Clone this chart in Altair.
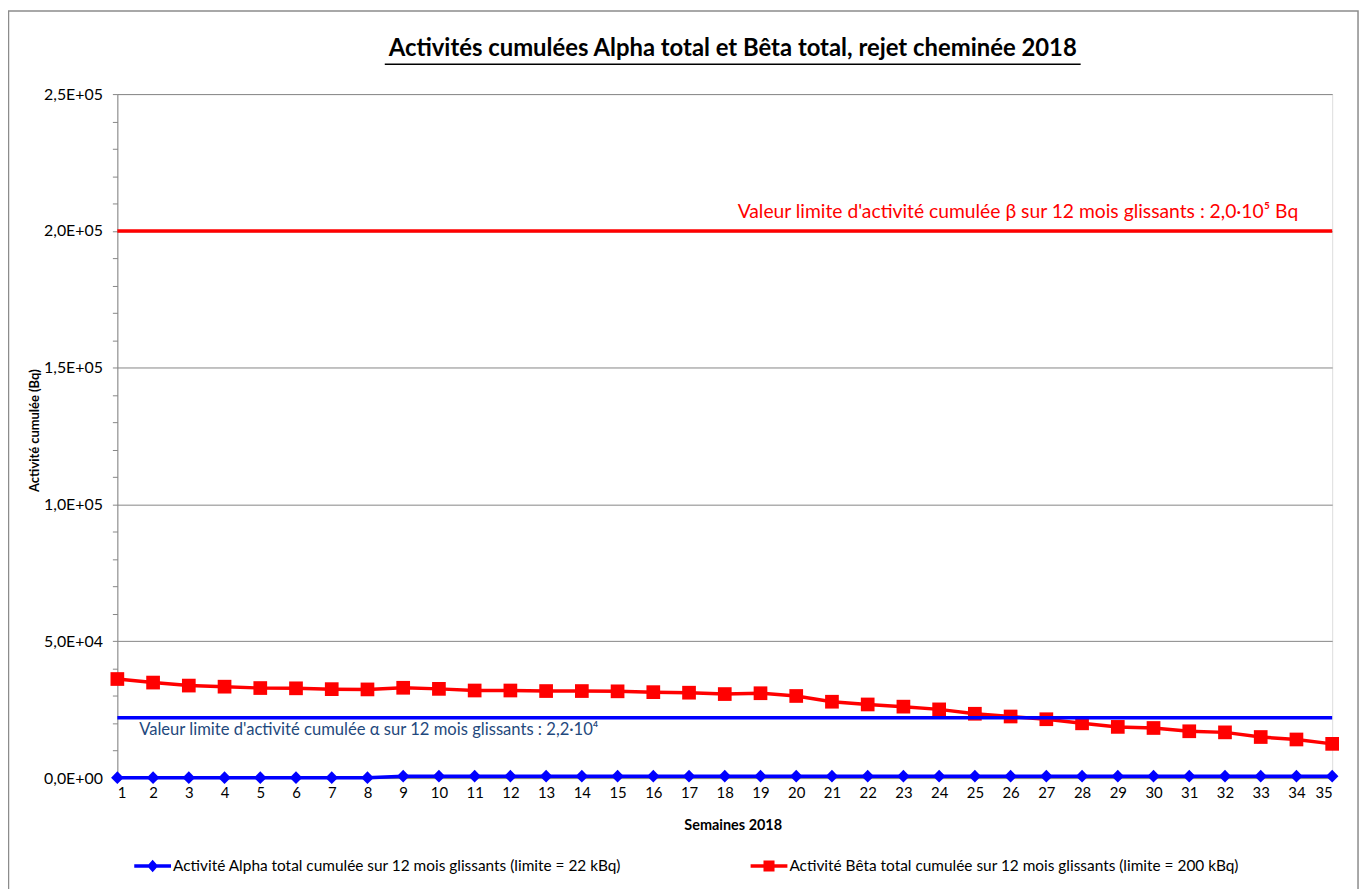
import altair as alt
import pandas as pd

# ---------------- data ----------------
weeks = [1, 2, 3, 4, 5, 6, 7, 8, 9, 10, 11, 12, 13, 14, 15, 16, 17, 18,
         19, 20, 21, 22, 23, 24, 25, 26, 27, 28, 29, 30, 31, 32, 33, 34, 35]
alpha_values = [150, 150, 150, 150, 150, 150, 150, 150, 700, 700, 700, 700,
                700, 700, 700, 700, 700, 700, 700, 700, 700, 700, 700, 700,
                700, 700, 700, 700, 700, 700, 700, 700, 700, 700, 700]
beta_values = [36200, 34900, 33800, 33400, 32900, 32800, 32500, 32400, 33000,
               32600, 32000, 32000, 31800, 31800, 31700, 31400, 31200, 30700,
               31000, 30000, 27900, 26900, 26100, 25100, 23500, 22500, 21500,
               20000, 18700, 18300, 17100, 16700, 15000, 14100, 12500]
alpha_label = "Activité Alpha total cumulée sur 12 mois glissants (limite = 22 kBq)"
beta_label = "Activité Bêta total cumulée sur 12 mois glissants (limite = 200 kBq)"
alpha_limit = [22000]
beta_limit = [200000]
alpha_note = ["Valeur limite d'activité cumulée α sur 12 mois  glissants : 2,2·10⁴"]
beta_note = ["Valeur limite d'activité cumulée β sur 12 mois  glissants : 2,0·10⁵ Bq"]
alpha_note_pos = [1.61, 17500]
beta_note_pos = [18.36, 207000]
title_text = ["Activités cumulées Alpha total et Bêta total, rejet cheminée 2018"]
y_ticks = list(range(0, 250001, 10000))
y_domain = [0, 250000]
x_domain = [1, 35]

# ---------------- style ----------------
W, H = 1222, 688
FONT = "Lato"
GREY = "#868686"
BLUE = "#0000FF"
RED = "#FF0000"
NOTE_BLUE = "#1F497D"

alpha_df = pd.DataFrame({"week": weeks, "value": alpha_values, "series": alpha_label})
beta_df = pd.DataFrame({"week": weeks, "value": beta_values, "series": beta_label})

x_scale = alt.Scale(domain=x_domain, nice=False, zero=False)
y_scale = alt.Scale(domain=y_domain, nice=False)

ylab = ("datum.value % 50000 != 0 ? '' : (datum.value == 0 ? '0,0E+00' : "
        "replace(format(datum.value / pow(10, floor(log(datum.value) / LN10 + 0.000001)), '.1f'), '.', ',')"
        " + 'E+' + (floor(log(datum.value) / LN10 + 0.000001) < 10 ? '0' : '')"
        " + floor(log(datum.value) / LN10 + 0.000001))")

x_axis = alt.Axis(values=weeks, format="d", ticks=False, grid=False,
                  domainColor=GREY, domainWidth=1,
                  labelFont=FONT, labelFontSize=15, labelColor="black",
                  labelPadding=8, labelOverlap=False,
                  title="Semaines 2018", titleFont=FONT, titleFontSize=14.5,
                  titleFontWeight="bold", titleColor="black",
                  titleX=619, titleY=48, titleBaseline="middle", titleAlign="center")
y_axis = alt.Axis(values=y_ticks, labelExpr=ylab, labelOverlap=False,
                  grid=True, gridColor=GREY, gridWidth=1,
                  gridOpacity={"condition": {"test": "datum.value % 50000 == 0", "value": 1}, "value": 0},
                  tickSize=5, tickColor=GREY, domainColor=GREY,
                  labelFont=FONT, labelFontSize=16, labelColor="black", labelPadding=10,
                  title="Activité cumulée (Bq)", titleFont=FONT, titleFontSize=13,
                  titleFontWeight="bold", titleColor="black",
                  titleX=-83, titleY=338, titleAngle=270,
                  titleBaseline="middle", titleAlign="center")

x_enc = alt.X("week:Q", scale=x_scale, axis=x_axis)
y_enc = alt.Y("value:Q", scale=y_scale, axis=y_axis)

diamond_line = "M-1,-0.1L1,-0.1L1,0.1L-1,0.1Z M0,-0.34L0.3,0L0,0.34L-0.3,0Z"
square_line = "M-1,-0.1L1,-0.1L1,0.1L-1,0.1Z M-0.3,-0.3L0.3,-0.3L0.3,0.3L-0.3,0.3Z"


def legend(path, lx):
    return alt.Legend(title=None, orient="none", legendX=lx, legendY=758,
                      symbolType=path, symbolSize=1369, symbolStrokeWidth=0,
                      labelFont=FONT, labelFontSize=15.5, labelColor="black",
                      labelOffset=2, padding=0, labelLimit=900)


alpha_line = alt.Chart(alpha_df).mark_line(color=BLUE, strokeWidth=3.5).encode(x=x_enc, y=y_enc)
alpha_pts = alt.Chart(alpha_df).mark_point(shape="diamond", filled=True, size=160, opacity=1).encode(
    x=x_enc, y=y_enc,
    color=alt.Color("series:N", scale=alt.Scale(domain=[alpha_label], range=[BLUE]),
                    legend=legend(diamond_line, 17)))
alpha_layer = alt.layer(alpha_line, alpha_pts)

beta_line = alt.Chart(beta_df).mark_line(color=RED, strokeWidth=3.5).encode(x=x_enc, y=y_enc)
beta_pts = alt.Chart(beta_df).mark_point(shape="square", filled=True, size=190, opacity=1).encode(
    x=x_enc, y=y_enc,
    color=alt.Color("series:N", scale=alt.Scale(domain=[beta_label], range=[RED]),
                    legend=legend(square_line, 637)))
beta_layer = alt.layer(beta_line, beta_pts)

alpha_rule = alt.Chart(pd.DataFrame({"value": alpha_limit})).mark_rule(
    color=BLUE, strokeWidth=3.5).encode(y=y_enc)
beta_rule = alt.Chart(pd.DataFrame({"value": beta_limit})).mark_rule(
    color=RED, strokeWidth=3.5).encode(y=y_enc)

alpha_text = alt.Chart(pd.DataFrame({"week": [alpha_note_pos[0]], "value": [alpha_note_pos[1]],
                                     "t": alpha_note})).mark_text(
    align="left", baseline="middle", font=FONT, fontSize=16.7, color=NOTE_BLUE).encode(
    x=x_enc, y=y_enc, text="t:N")
beta_text = alt.Chart(pd.DataFrame({"week": [beta_note_pos[0]], "value": [beta_note_pos[1]],
                                    "t": beta_note})).mark_text(
    align="left", baseline="middle", font=FONT, fontSize=19.4, color=RED).encode(
    x=x_enc, y=y_enc, text="t:N")

one = pd.DataFrame({"t": title_text})
title = alt.Chart(one).mark_text(align="center", baseline="middle", font=FONT, fontSize=24,
                                 fontWeight="bold", color="black").encode(
    x=alt.value(619), y=alt.value(-45), text="t:N")
underline = alt.Chart(one).mark_rule(color="black", strokeWidth=1.5).encode(
    x=alt.value(269), x2=alt.value(969), y=alt.value(-30))
frame = alt.Chart(one).mark_rect(fill=None, stroke="#8c8c8c", strokeWidth=1.5).encode(
    x=alt.value(-109.5), x2=alt.value(1248), y=alt.value(-83.5), y2=alt.value(H + 120))

chart = alt.layer(
    frame, beta_layer, alpha_layer, alpha_rule, beta_rule, alpha_text, beta_text, title, underline
).resolve_scale(color="independent").properties(
    width=W, height=H,
    autosize=alt.AutoSizeParams(type="none"),
    padding={"left": 110, "top": 84, "right": 30, "bottom": 109},
).configure_view(stroke=None).configure(background="white")

chart.save("out.html", embed_options={"renderer": "svg", "actions": False})
